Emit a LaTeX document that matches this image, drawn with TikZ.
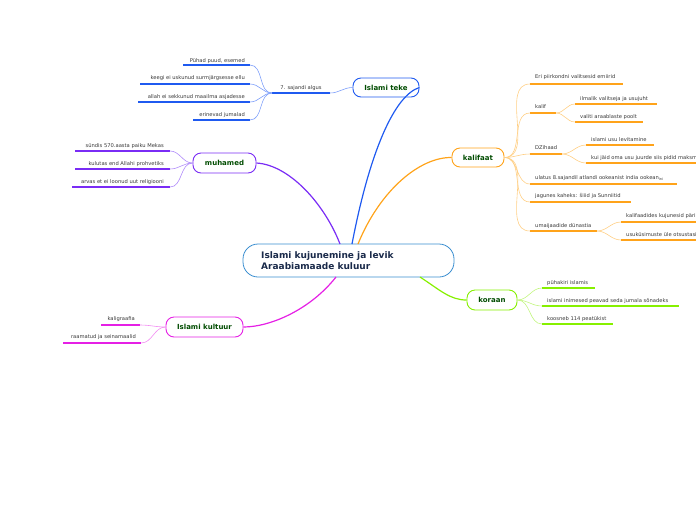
\documentclass[tikz,border=0pt]{standalone}
\usepackage{fontspec}
\setmainfont{DejaVu Sans}
\begin{document}
\begin{tikzpicture}[x=1pt,y=-1pt,
  leaf/.style={font=\fontsize{5.2}{6}\selectfont, text=black!78, inner sep=0pt},
  topic/.style={draw, rounded corners=8pt, line width=0.9pt, fill=white, text=green!30!black, font=\fontsize{7}{8}\selectfont\bfseries, inner sep=0pt},
  uline/.style={line width=1.6pt},
  thin/.style={line width=0.6pt}]
\definecolor{cblue}{HTML}{1F5AF0}
\definecolor{lblue}{HTML}{7FA0FA}
\definecolor{cpurp}{HTML}{7A2CF5}
\definecolor{lpurp}{HTML}{B08BFA}
\definecolor{corange}{HTML}{FFA31A}
\definecolor{lorange}{HTML}{FFCF85}
\definecolor{cgreen}{HTML}{86F000}
\definecolor{lgreen}{HTML}{C2F57F}
\definecolor{cmag}{HTML}{E520E5}
\definecolor{lmag}{HTML}{F28CF2}
\definecolor{cborder}{HTML}{3A8ED0}
\definecolor{ctext}{HTML}{1A2A4A}
\useasboundingbox (0,0) rectangle (696,520);
\begin{scope}
\clip (0,0) rectangle (696,520);

% central node
\node[draw=cborder, line width=0.8pt, rounded corners=15pt, fill=white, minimum width=211pt, minimum height=33pt, inner sep=0pt] (center) at (348.5,260.5) {};
\node[anchor=west, align=left, text=ctext, font=\fontsize{9}{11}\selectfont\bfseries, inner sep=0pt] (ctitle) at (261,261) {Islami kujunemine ja levik\\Araabiamaade kuluur};
\coordinate (cb) at (352,244);
\coordinate (cm) at (340,244);
\coordinate (ck) at (358,244);
\coordinate (cg) at (420,277);
\coordinate (cc) at (336,277);

% ===== Islami teke =====
\node[topic, draw=cblue, minimum width=66pt, minimum height=19pt] (teke) at (386,87.5) {Islami teke};
\draw[cblue, line width=1.2pt] (cb) .. controls (370,150) and (395,95) .. (teke.east);
\node[leaf, anchor=base] (algus) at (301,89) {7. sajandi algus};
\coordinate (algL) at (272,93); \coordinate (algR) at (330,93);
\draw[cblue, uline] (algL) -- (algR);
\draw[lblue, thin] (teke.west) to[out=180,in=0] (algR);

\node[leaf, anchor=base east] (t1) at (245,62) {Pühad puud, esemed};
\coordinate (t1L) at (183,65); \coordinate (t1R) at (250,65);
\node[leaf, anchor=base east] (t2) at (245,79) {keegi ei uskunud surmjärgsesse ellu};
\coordinate (t2L) at (140,84); \coordinate (t2R) at (250,84);
\node[leaf, anchor=base east] (t3) at (245,98) {allah ei sekkunud maailma asjadesse};
\coordinate (t3L) at (138,102); \coordinate (t3R) at (250,102);
\node[leaf, anchor=base east] (t4) at (245,116) {erinevad jumalad};
\coordinate (t4L) at (193,120); \coordinate (t4R) at (250,120);
\foreach \i in {1,2,3,4} {
  \draw[cblue, uline] (t\i L) -- (t\i R);
  \draw[lblue, thin] (algL) to[out=180,in=0] (t\i R);
}

% ===== muhamed =====
\node[topic, draw=cpurp, minimum width=63pt, minimum height=20pt] (muh) at (224.5,163) {muhamed};
\draw[cpurp, line width=1.2pt] (cm) .. controls (325,205) and (290,165) .. (muh.east);
\node[leaf, anchor=base east] (m1) at (164,147) {sündis 570.aasta paiku Mekas};
\coordinate (m1L) at (75,151); \coordinate (m1R) at (170,151);
\node[leaf, anchor=base east] (m2) at (164,165) {kulutas end Allahi prohvetiks};
\coordinate (m2L) at (75,169); \coordinate (m2R) at (170,169);
\node[leaf, anchor=base east] (m3) at (164,183) {arvas et ei loonud uut religiooni};
\coordinate (m3L) at (72,187); \coordinate (m3R) at (170,187);
\foreach \i in {1,2,3} {
  \draw[cpurp, uline] (m\i L) -- (m\i R);
  \draw[lpurp, thin] (muh.west) to[out=180,in=0] (m\i R);
}

% ===== kalifaat =====
\node[topic, draw=corange, minimum width=52pt, minimum height=19pt] (kal) at (478,157.5) {kalifaat};
\draw[corange, line width=1.2pt] (ck) .. controls (380,190) and (420,157) .. (kal.west);

\node[leaf, anchor=base west] (k1) at (535,78) {Eri piirkondni valitsesid emiirid};
\coordinate (k1L) at (530,84); \coordinate (k1R) at (623,84);
\node[leaf, anchor=base west] (k2) at (535,108) {kalif};
\coordinate (k2L) at (530,113); \coordinate (k2R) at (556,113);
\node[leaf, anchor=base west] (k3) at (535,149) {DZihaad};
\coordinate (k3L) at (530,154); \coordinate (k3R) at (562,154);
\node[leaf, anchor=base west] (k4) at (535,179) {ulatus 8.sajandil atlandi ookeanist india ookean{\fontsize{3.5}{4}\selectfont\raisebox{-1pt}{ini}}};
\coordinate (k4L) at (530,184); \coordinate (k4R) at (677,184);
\node[leaf, anchor=base west] (k5) at (535,197) {jagunes kaheks: šiiid ja Sunniitid};
\coordinate (k5L) at (530,202); \coordinate (k5R) at (631,202);
\node[leaf, anchor=base west] (k6) at (535,227) {umaijaadide dünastia};
\coordinate (k6L) at (530,231); \coordinate (k6R) at (597,231);
\foreach \i in {1,2,3,4,5,6} {
  \draw[corange, uline] (k\i L) -- (k\i R);
  \draw[lorange, thin] (kal.east) to[out=0,in=180] (k\i L);
}
% kalif children
\node[leaf, anchor=base west] (k21) at (580,100) {ilmalik valitseja ja usujuht};
\coordinate (k21L) at (575,104); \coordinate (k21R) at (657,104);
\node[leaf, anchor=base west] (k22) at (580,118) {valiti araablaste poolt};
\coordinate (k22L) at (575,122); \coordinate (k22R) at (643,122);
\foreach \i in {1,2} {
  \draw[corange, uline] (k2\i L) -- (k2\i R);
  \draw[lorange, thin] (k2R) to[out=0,in=180] (k2\i L);
}
% DZihaad children
\node[leaf, anchor=base west] (k31) at (591,141) {islami usu levitamine};
\coordinate (k31L) at (586,145); \coordinate (k31R) at (654,145);
\node[leaf, anchor=base west] (k32) at (591,159) {kui jäid oma usu juurde siis pidid maksma};
\coordinate (k32L) at (586,163); \coordinate (k32R) at (700,163);
\foreach \i in {1,2} {
  \draw[corange, uline] (k3\i L) -- (k3\i R);
  \draw[lorange, thin] (k3R) to[out=0,in=180] (k3\i L);
}
% umaijaadide children
\node[leaf, anchor=base west] (k61) at (626,217) {kalifaadides kujunesid pärilikud};
\coordinate (k61L) at (621,222); \coordinate (k61R) at (700,222);
\node[leaf, anchor=base west] (k62) at (626,236) {usuküsimuste üle otsustasid};
\coordinate (k62L) at (621,240); \coordinate (k62R) at (700,240);
\foreach \i in {1,2} {
  \draw[corange, uline] (k6\i L) -- (k6\i R);
  \draw[lorange, thin] (k6R) to[out=0,in=180] (k6\i L);
}

% ===== koraan =====
\node[topic, draw=cgreen, minimum width=50pt, minimum height=20pt] (kor) at (492,300) {koraan};
\draw[cgreen, line width=1.2pt] (cg) .. controls (440,290) and (450,300) .. (kor.west);
\node[leaf, anchor=base west] (g1) at (547,284) {pühakiri islamis};
\coordinate (g1L) at (542,288); \coordinate (g1R) at (595,288);
\node[leaf, anchor=base west] (g2) at (547,302) {islami inimesed peavad seda jumala sõnadeks};
\coordinate (g2L) at (542,306); \coordinate (g2R) at (679,306);
\node[leaf, anchor=base west] (g3) at (547,320) {koosneb 114 peatükist};
\coordinate (g3L) at (542,324); \coordinate (g3R) at (613,324);
\foreach \i in {1,2,3} {
  \draw[cgreen, uline] (g\i L) -- (g\i R);
  \draw[lgreen, thin] (kor.east) to[out=0,in=180] (g\i L);
}

% ===== Islami kultuur =====
\node[topic, draw=cmag, minimum width=77pt, minimum height=20pt] (kult) at (204.5,327) {Islami kultuur};
\draw[cmag, line width=1.2pt] (cc) .. controls (310,310) and (270,327) .. (kult.east);
\node[leaf, anchor=base east] (u1) at (135,320) {kaligraafia};
\coordinate (u1L) at (101,325); \coordinate (u1R) at (140,325);
\node[leaf, anchor=base east] (u2) at (136,338) {raamatud ja seinamaalid};
\coordinate (u2L) at (63,343); \coordinate (u2R) at (141,343);
\foreach \i in {1,2} {
  \draw[cmag, uline] (u\i L) -- (u\i R);
  \draw[lmag, thin] (kult.west) to[out=180,in=0] (u\i R);
}
\end{scope}
\end{tikzpicture}
\end{document}
